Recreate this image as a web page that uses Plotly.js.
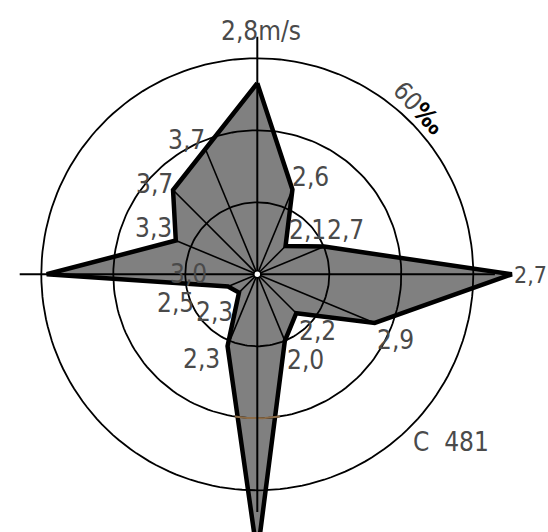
<!DOCTYPE html>
<html>
<head>
<meta charset="utf-8">
<script src="https://cdn.plot.ly/plotly-3.0.1.min.js"></script>
<style>html,body{margin:0;padding:0;background:#fff;}#chart{width:548px;height:532px;}</style>
</head>
<body>
<div id="chart"></div>
<script>
// ---- data ----
const directions = ['N','NNE','NE','ENE','E','ESE','SE','SSE','S','SSW','SW','WSW','W','WNW','NW','NNW'];
const directionAngles = [0,22.5,45,67.5,90,112.5,135,157.5,180,202.5,225,247.5,270,292.5,315,337.5];
const frequency = [53.1,25.5,11.1,20.1,70.7,35.3,15.3,20.0,78.0,21.6,7.2,8.8,58.5,24.5,33.1,37.6]; // per mille
const speedLabels = ['2,8m/s','2,6','2,1','2,7','2,7','2,9','2,2','2,0',null,'2,3','2,3','2,5','3,0','3,3','3,7','3,7'];
const rings = [20,40,60];
const ringLabel = '60';
const calmLabel = 'C  481';

// ---- layout / style (not data) ----
const W = 548, H = 532;
const cx = 257.3, cy = 274.3, ppu = 3.6, rAxis = 66;
const labelPx = [[261,31],[310,177],[307,230],[345,230],[513,275],[395,340],[317,331],[305,360],null,[201,359],[214,312],[175,303],[188,274],[153,228],[154,184],[186,140]];
const FONT = '"DejaVu Sans Condensed", "DejaVu Sans", sans-serif';
const TXT = '#4a4a4a';
const FS = 26;

// polar -> cartesian through the data
const rad = d => d*Math.PI/180;
const px = (r,t) => r*Math.sin(rad(t));
const py = (r,t) => r*Math.cos(rad(t));

const traces = [];
// polygon
const polyR = frequency.concat([frequency[0]]);
const polyT = directionAngles.concat([directionAngles[0]]);
traces.push({
  type:'scatter', x:polyR.map((r,i)=>px(r,polyT[i])), y:polyR.map((r,i)=>py(r,polyT[i])),
  mode:'lines', fill:'toself', fillcolor:'#808080',
  line:{color:'#000',width:4.5}, cliponaxis:false, hoverinfo:'skip'
});
// spokes (non-cardinal)
const sx=[], sy=[];
directionAngles.forEach((a,i)=>{ if(a%90!==0){ sx.push(0,px(frequency[i],a),null); sy.push(0,py(frequency[i],a),null);} });
traces.push({type:'scatter', x:sx, y:sy, mode:'lines', line:{color:'#000',width:1.6}, connectgaps:false, hoverinfo:'skip'});
// rings
rings.forEach(v=>{
  const xx=[], yy=[];
  for(let a=0;a<=360;a+=2){xx.push(px(v,a));yy.push(py(v,a));}
  traces.push({type:'scatter', x:xx, y:yy, mode:'lines', line:{color:'#000',width:1.8}, hoverinfo:'skip'});
});
// brown arc segment on 40 ring inside S spike
(function(){const xx=[],yy=[];for(let a=171;a<=189;a+=1){xx.push(px(rings[1],a));yy.push(py(rings[1],a));}
traces.push({type:'scatter', x:xx, y:yy, mode:'lines', line:{color:'#8b6b47',width:2}, hoverinfo:'skip'});})();
// cardinal axis cross
traces.push({type:'scatter', x:[0,0,null,-rAxis,rAxis], y:[rAxis,-rAxis,null,0,0], mode:'lines', line:{color:'#000',width:2}, connectgaps:false, hoverinfo:'skip'});
// center dot
traces.push({type:'scatter', x:[0], y:[0], mode:'markers', marker:{size:7,color:'#fff',line:{color:'#000',width:1.5}}, hoverinfo:'skip'});

const annotations = [];
speedLabels.forEach((t,i)=>{
  if(!t||!labelPx[i]) return;
  annotations.push({xref:'paper',yref:'paper',x:labelPx[i][0]/W,y:1-labelPx[i][1]/H,text:t,showarrow:false,borderpad:0,
    xanchor: i===4 ? 'left' : 'center', yanchor:'middle',font:{family:FONT,size: i===4 ? 23 : FS,color:TXT}});
});
annotations.push({xref:'paper',yref:'paper',x:418/W,y:1-108/H,text:ringLabel+'<b style="color:#000">‰</b>',showarrow:false,textangle:47,
  xanchor:'center',yanchor:'middle',font:{family:FONT,size:25,color:TXT}});
annotations.push({xref:'paper',yref:'paper',x:411/W,y:1-442/H,text:calmLabel,showarrow:false,
  xanchor:'left',yanchor:'middle',font:{family:FONT,size:FS,color:TXT}});

const layout = {
  width:W, height:H, margin:{l:0,r:0,t:0,b:0}, showlegend:false,
  paper_bgcolor:'#fff', plot_bgcolor:'#fff',
  xaxis:{range:[-cx/ppu,(W-cx)/ppu],visible:false,fixedrange:true},
  yaxis:{range:[-(H-cy)/ppu,cy/ppu],visible:false,fixedrange:true},
  annotations:annotations
};
Plotly.newPlot('chart',traces,layout,{staticPlot:true});
</script>
</body>
</html>
